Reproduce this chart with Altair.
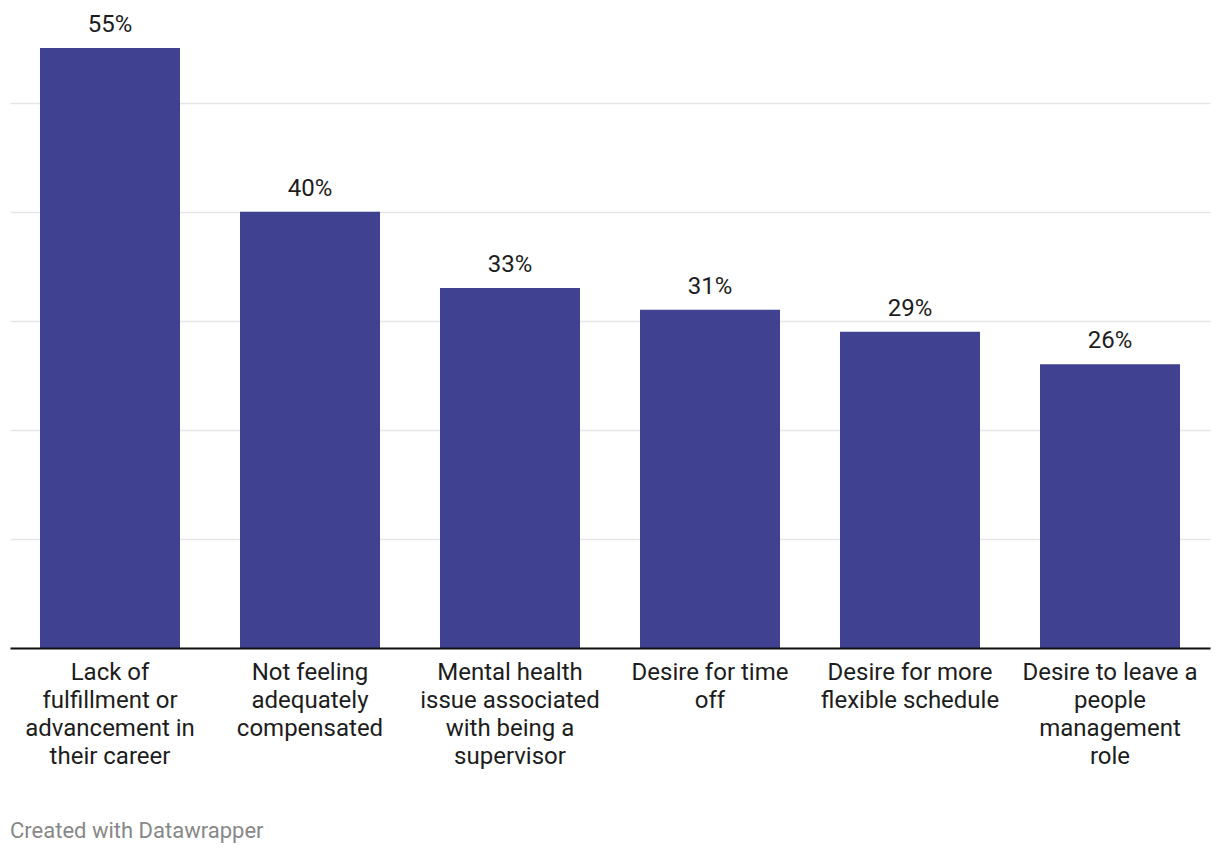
import altair as alt
import pandas as pd

categories = [
    "Lack of\nfulfillment or\nadvancement in\ntheir career",
    "Not feeling\nadequately\ncompensated",
    "Mental health\nissue associated\nwith being a\nsupervisor",
    "Desire for time\noff",
    "Desire for more\nflexible schedule",
    "Desire to leave a\npeople\nmanagement\nrole",
]
values = [55, 40, 33, 31, 29, 26]
grid_ticks = [0, 10, 20, 30, 40, 50]

df = pd.DataFrame({"cat": categories, "val": values})
df["label"] = df["val"].astype(str) + "%"

FONT = "Roboto"

x = alt.X(
    "cat:N",
    sort=None,
    title=None,
    scale=alt.Scale(paddingInner=0.3, paddingOuter=0.15),
    axis=alt.Axis(
        labelExpr="split(datum.label, '\\n')",
        labelAngle=0,
        labelFont=FONT,
        labelFontSize=24,
        labelColor="#1d1d1d",
        labelLineHeight=28,
        labelPadding=12,
        labelBaseline="top",
        labelLimit=300,
        ticks=False,
        domainColor="#111111",
        domainWidth=2,
        zindex=1,
    ),
)
y = alt.Y(
    "val:Q",
    title=None,
    scale=alt.Scale(domain=[0, 55], nice=False),
    axis=alt.Axis(
        values=grid_ticks,
        labels=False,
        ticks=False,
        domain=False,
        gridColor="#e5e5e5",
        gridWidth=1.5,
    ),
)

bars = alt.Chart(df).mark_bar(color="#404190").encode(x=x, y=y)
text = alt.Chart(df).mark_text(
    font=FONT, fontSize=24, color="#1d1d1d", baseline="bottom", dy=-11
).encode(x=x, y=y, text="label:N")

chart = (
    alt.layer(bars, text)
    .properties(
        width=1200,
        height=600,
        title=alt.TitleParams(
            "Created with Datawrapper",
            orient="bottom",
            anchor="start",
            font=FONT,
            fontSize=22,
            fontWeight="normal",
            color="#888888",
            offset=53,
        ),
        autosize=alt.AutoSizeParams(type="none"),
        padding={"left": 2, "top": 40, "right": 2, "bottom": 200},
    )
    .configure_view(stroke=None)
)

chart.save("out.html", embed_options={"renderer": "svg", "actions": False})
